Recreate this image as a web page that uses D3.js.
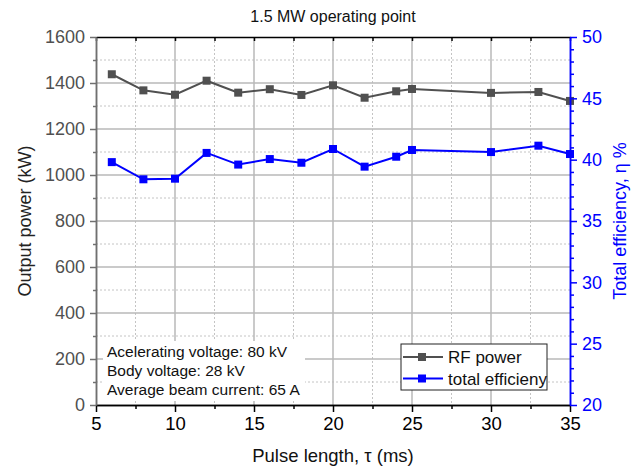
<!DOCTYPE html>
<meta charset="utf-8">
<script src="https://d3js.org/d3.v7.min.js"></script>
<style>
    html, body {
        margin: 0;
        background-color: white;
    }
    text {
        font-family: "Liberation Sans", Arial, sans-serif;
    }
</style>
<body></body>
<script>

    // DATA
    const pulseLength = [6, 8, 10, 12, 14, 16, 18, 20, 22, 24, 25, 30, 33, 35];
    const rfPower     = [1438, 1368, 1349, 1410, 1358, 1373, 1348, 1390, 1336, 1364, 1374, 1357, 1361, 1322];
    const efficiency  = [39.8, 38.4, 38.45, 40.55, 39.6, 40.05, 39.75, 40.87, 39.43, 40.24, 40.79, 40.62, 41.14, 40.46];

    const xTicks      = [5, 10, 15, 20, 25, 30, 35];
    const xMinorTicks = [7.5, 12.5, 17.5, 22.5, 27.5, 32.5];
    const powerTicks  = [0, 200, 400, 600, 800, 1000, 1200, 1400, 1600];
    const powerMinor  = [100, 300, 500, 700, 900, 1100, 1300, 1500];
    const effTicks    = [20, 25, 30, 35, 40, 45, 50];
    const effMinor    = d3.range(21, 50).filter(d => d % 5 !== 0);

    const notes = ["Acelerating voltage: 80 kV", "Body voltage: 28 kV", "Average beam current: 65 A"];
    const legendItems = [
        {label: "RF power", color: "#505050"},
        {label: "total efficieny", color: "#0000ff"}
    ];

    // DESIGN CONSTANTS
    const width = 639, height = 472;
    const plotL = 96, plotR = 570, plotT = 37, plotB = 405;
    const grayColor = "#505050", blueColor = "#0000ff";

    const svg = d3.select("body").append("svg")
        .attr("width", width)
        .attr("height", height);

    svg.append("rect").attr("width", width).attr("height", height).attr("fill", "white");

    const x  = d3.scaleLinear().domain([5, 35]).range([plotL, plotR]);
    const yP = d3.scaleLinear().domain([0, 1600]).range([plotB, plotT]);
    const yE = d3.scaleLinear().domain([20, 50]).range([plotB, plotT]);

    // Grid: minor dotted, then major solid
    const grid = svg.append("g");
    grid.selectAll(".vminor").data(xMinorTicks).join("line")
        .attr("x1", d => x(d)).attr("x2", d => x(d))
        .attr("y1", plotT).attr("y2", plotB)
        .attr("stroke", "#c4c4c4").attr("stroke-dasharray", "2,2");
    grid.selectAll(".hminor").data(powerMinor).join("line")
        .attr("x1", plotL).attr("x2", plotR)
        .attr("y1", d => yP(d)).attr("y2", d => yP(d))
        .attr("stroke", "#c4c4c4").attr("stroke-dasharray", "2,2");
    grid.selectAll(".vmajor").data(xTicks.slice(1, -1)).join("line")
        .attr("x1", d => x(d)).attr("x2", d => x(d))
        .attr("y1", plotT).attr("y2", plotB)
        .attr("stroke", "#b8b8b8").attr("stroke-width", 1.5);
    grid.selectAll(".hmajor").data(powerTicks.slice(1, -1)).join("line")
        .attr("x1", plotL).attr("x2", plotR)
        .attr("y1", d => yP(d)).attr("y2", d => yP(d))
        .attr("stroke", "#b8b8b8").attr("stroke-width", 1.5);

    // Series
    function drawSeries(values, yScale, color) {
        const pts = pulseLength.map((p, i) => [x(p), yScale(values[i])]);
        svg.append("path")
            .attr("d", d3.line()(pts))
            .attr("fill", "none")
            .attr("stroke", color)
            .attr("stroke-width", 2);
        svg.append("g").selectAll("rect").data(pts).join("rect")
            .attr("x", d => d[0] - 4).attr("y", d => d[1] - 4)
            .attr("width", 8).attr("height", 8)
            .attr("fill", color);
    }
    drawSeries(rfPower, yP, grayColor);
    drawSeries(efficiency, yE, blueColor);

    // Annotation block (white background hides grid)
    svg.append("rect")
        .attr("x", 103).attr("y", 341).attr("width", 202).attr("height", 60)
        .attr("fill", "white");
    svg.append("g").selectAll("text").data(notes).join("text")
        .attr("x", 107).attr("y", (d, i) => 357 + i * 19)
        .attr("font-size", 15.5)
        .attr("fill", "#111")
        .text(d => d);

    // Legend
    const legend = svg.append("g");
    legend.append("rect")
        .attr("x", 401).attr("y", 344).attr("width", 146).attr("height", 46)
        .attr("fill", "white").attr("stroke", "#222").attr("stroke-width", 1);
    legendItems.forEach((item, i) => {
        const cy = 357 + i * 21.5;
        legend.append("line")
            .attr("x1", 403).attr("x2", 443).attr("y1", cy).attr("y2", cy)
            .attr("stroke", item.color).attr("stroke-width", 2);
        legend.append("rect")
            .attr("x", 418).attr("y", cy - 4).attr("width", 8).attr("height", 8)
            .attr("fill", item.color);
        legend.append("text")
            .attr("x", 448).attr("y", cy + 6)
            .attr("font-size", 17).attr("fill", "#111")
            .text(item.label);
    });

    // Axes
    function styleAxis(g, color, fontSize) {
        g.select(".domain").attr("stroke", color).attr("stroke-width", 1.5);
        g.selectAll(".tick line").attr("stroke", color).attr("stroke-width", 1.5);
        g.selectAll(".tick text").attr("fill", color).attr("font-size", fontSize)
            .attr("font-family", "'Liberation Sans', Arial, sans-serif");
    }
    const fmt = d3.format("d");

    // Top
    const topAxis = svg.append("g").attr("transform", `translate(0,${plotT})`)
        .call(d3.axisTop(x).tickValues(d3.range(5, 35.1, 2.5)).tickSize(-4).tickSizeOuter(0).tickFormat(""));
    styleAxis(topAxis, "#000", 0);

    // Bottom
    const botMinor = svg.append("g").attr("transform", `translate(0,${plotB})`)
        .call(d3.axisBottom(x).tickValues(xMinorTicks).tickSize(4).tickSizeOuter(0).tickFormat(""));
    styleAxis(botMinor, "#000", 0);
    const botAxis = svg.append("g").attr("transform", `translate(0,${plotB})`)
        .call(d3.axisBottom(x).tickValues(xTicks).tickSize(7).tickSizeOuter(0).tickPadding(5).tickFormat(fmt));
    styleAxis(botAxis, "#000", 18.5);

    // Left
    const leftMinor = svg.append("g").attr("transform", `translate(${plotL},0)`)
        .call(d3.axisLeft(yP).tickValues(powerMinor).tickSize(3).tickSizeOuter(0).tickFormat(""));
    styleAxis(leftMinor, "#707070", 0);
    const leftAxis = svg.append("g").attr("transform", `translate(${plotL},0)`)
        .call(d3.axisLeft(yP).tickValues(powerTicks).tickSize(6).tickSizeOuter(0).tickPadding(5).tickFormat(fmt));
    styleAxis(leftAxis, "#707070", 18);
    leftAxis.selectAll(".tick text").attr("fill", "#505050");

    // Right
    const rightMinor = svg.append("g").attr("transform", `translate(${plotR},0)`)
        .call(d3.axisRight(yE).tickValues(effMinor).tickSize(4).tickSizeOuter(0).tickFormat(""));
    styleAxis(rightMinor, blueColor, 0);
    const rightAxis = svg.append("g").attr("transform", `translate(${plotR},0)`)
        .call(d3.axisRight(yE).tickValues(effTicks).tickSize(7).tickSizeOuter(0).tickPadding(5).tickFormat(fmt));
    styleAxis(rightAxis, blueColor, 18);

    // Titles
    svg.append("text")
        .attr("x", (plotL + plotR) / 2).attr("y", 22)
        .attr("text-anchor", "middle").attr("font-size", 16).attr("fill", "#111")
        .text("1.5 MW operating point");
    svg.append("text")
        .attr("x", (plotL + plotR) / 2).attr("y", 462)
        .attr("text-anchor", "middle").attr("font-size", 18.5).attr("fill", "#111")
        .text("Pulse length, \u03c4 (ms)");
    svg.append("text")
        .attr("transform", `translate(31,${(plotT + plotB) / 2}) rotate(-90)`)
        .attr("text-anchor", "middle").attr("font-size", 18).attr("fill", "#222")
        .text("Output power (kW)");
    svg.append("text")
        .attr("transform", `translate(626,${(plotT + plotB) / 2}) rotate(-90)`)
        .attr("text-anchor", "middle").attr("font-size", 18).attr("fill", blueColor)
        .text("Total efficiency, \u03b7 %");

</script>
